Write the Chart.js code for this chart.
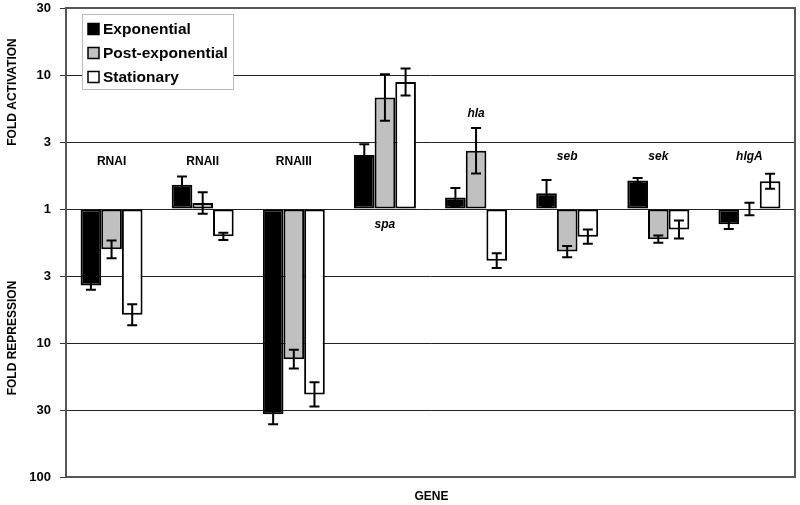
<!DOCTYPE html>
<html>
<head>
<meta charset="utf-8">
<script src="https://cdn.jsdelivr.net/npm/chart.js@4/dist/chart.umd.min.js"></script>
<style>
  html, body { margin: 0; padding: 0; background: #fff; }
  #wrap { width: 800px; height: 505px; position: relative; }
</style>
</head>
<body>
<div id="wrap"><canvas id="c"></canvas></div>
<script>
// Genes (categories)
const genes = ['RNAI', 'RNAII', 'RNAIII', 'spa', 'hla', 'seb', 'sek', 'hlgA'];
const italicGene = [false, false, false, true, true, true, true, true];
// Fold change: positive = activation, negative = repression
const exponential     = [-3.73, 1.52, -34.0, 2.53, 1.22, 1.31, 1.63, -1.30];
const postExponential = [-2.00, 1.11, -13.2, 6.80, 2.72, -2.08, -1.68, 1.00];
const stationary      = [-6.15, -1.60, -24.2, 8.87, -2.43, -1.61, -1.42, 1.61];
// Error half-widths in log10 units
const exponentialErr     = [0.030, 0.060, 0.075, 0.080, 0.070, 0.100, 0.020, 0.035];
const postExponentialErr = [0.066, 0.080, 0.070, 0.174, 0.170, 0.042, 0.027, 0.046];
const stationaryErr      = [0.078, 0.027, 0.090, 0.100, 0.055, 0.053, 0.067, 0.056];
// Y tick labels (bottom to top), ticks every half decade
const yTickLabels = ['100', '30', '10', '3', '1', '3', '10', '30'];
// Gene label anchor (in log10 axis units)
const geneLabelAt = [0.36, 0.36, 0.36, -0.11, 0.72, 0.40, 0.40, 0.40];

const toLog = v => Math.sign(v) * Math.log10(Math.abs(v));

const FONT = '"Liberation Sans", Arial, sans-serif';

const errorBars = {
  id: 'errorBars',
  afterDatasetsDraw(chart) {
    const ctx = chart.ctx;
    const y = chart.scales.y;
    chart.data.datasets.forEach((ds, di) => {
      const meta = chart.getDatasetMeta(di);
      meta.data.forEach((bar, i) => {
        const v = ds.data[i];
        const e = ds.err[i];
        const yTop = y.getPixelForValue(v + e);
        const yBot = y.getPixelForValue(v - e);
        ctx.save();
        ctx.strokeStyle = '#000';
        ctx.lineWidth = 2;
        ctx.beginPath();
        ctx.moveTo(bar.x, yTop); ctx.lineTo(bar.x, yBot);
        ctx.moveTo(bar.x - 5, yTop); ctx.lineTo(bar.x + 5, yTop);
        ctx.moveTo(bar.x - 5, yBot); ctx.lineTo(bar.x + 5, yBot);
        ctx.stroke();
        ctx.restore();
      });
    });
  }
};

const decor = {
  id: 'decor',
  afterDraw(chart) {
    const ctx = chart.ctx;
    const a = chart.chartArea;
    const x = chart.scales.x, y = chart.scales.y;
    ctx.save();
    // plot border
    ctx.strokeStyle = '#555';
    ctx.lineWidth = 2;
    ctx.strokeRect(a.left, a.top, a.right - a.left, a.bottom - a.top);
    // gene labels
    ctx.fillStyle = '#000';
    ctx.textAlign = 'center';
    ctx.textBaseline = 'middle';
    genes.forEach((g, i) => {
      ctx.font = (italicGene[i] ? 'italic ' : '') + 'bold 12px ' + FONT;
      ctx.fillText(g, x.getPixelForValue(i), y.getPixelForValue(geneLabelAt[i]) + 1);
    });
    // axis titles
    ctx.font = 'bold 12px ' + FONT;
    ctx.fillText('GENE', (a.left + a.right) / 2 + 1, 497);
    ctx.save();
    ctx.translate(13, 92);
    ctx.rotate(-Math.PI / 2);
    ctx.fillText('FOLD ACTIVATION', 0, 0);
    ctx.restore();
    ctx.save();
    ctx.translate(13, 338);
    ctx.rotate(-Math.PI / 2);
    ctx.fillText('FOLD REPRESSION', 0, 0);
    ctx.restore();
    // legend
    const lx = 82, ly = 14, lw = 151, lh = 75;
    ctx.fillStyle = '#fff';
    ctx.fillRect(lx, ly, lw, lh);
    ctx.strokeStyle = '#bbb';
    ctx.lineWidth = 1;
    ctx.strokeRect(lx + 0.5, ly + 0.5, lw, lh);
    ctx.font = 'bold 15.5px ' + FONT;
    ctx.textAlign = 'left';
    chart.data.datasets.forEach((ds, i) => {
      const cy = 29 + i * 24;
      ctx.fillStyle = ds.backgroundColor;
      ctx.fillRect(88, cy - 5.5, 11, 11);
      ctx.strokeStyle = '#000';
      ctx.lineWidth = 1.5;
      ctx.strokeRect(88, cy - 5.5, 11, 11);
      ctx.fillStyle = '#000';
      ctx.fillText(ds.label, 103, cy + 1);
    });
    ctx.restore();
  }
};

new Chart(document.getElementById('c'), {
  type: 'bar',
  data: {
    labels: genes,
    datasets: [
      { label: 'Exponential', data: exponential.map(toLog), err: exponentialErr, backgroundColor: '#000000' },
      { label: 'Post-exponential', data: postExponential.map(toLog), err: postExponentialErr, backgroundColor: '#c0c0c0' },
      { label: 'Stationary', data: stationary.map(toLog), err: stationaryErr, backgroundColor: '#ffffff' }
    ].map(d => Object.assign(d, { borderColor: '#000', borderWidth: 2, borderSkipped: false,
      categoryPercentage: 0.68, barPercentage: 1.0 }))
  },
  options: {
    responsive: true,
    maintainAspectRatio: false,
    animation: false,
    layout: { padding: { top: 8, right: 5, left: 0, bottom: 0 } },
    plugins: { legend: { display: false }, tooltip: { enabled: false } },
    scales: {
      x: {
        grid: { display: false },
        border: { display: false },
        ticks: { display: false },
        afterFit(s) { s.height = 28; }
      },
      y: {
        min: -2, max: 1.5,
        afterBuildTicks(s) {
          s.ticks = yTickLabels.map((_, i) => ({ value: -2 + i * 0.5 }));
        },
        ticks: {
          callback: (v) => yTickLabels[Math.round((v + 2) / 0.5)],
          color: '#000',
          font: { family: FONT, size: 13, weight: 'bold' },
          padding: 9
        },
        grid: { color: '#222', lineWidth: 1, tickLength: 6, tickColor: '#333' },
        border: { display: false },
        afterFit(s) { s.width = 66; s.paddingTop = 0; s.paddingBottom = 0; }
      }
    }
  },
  plugins: [errorBars, decor]
});
</script>
</body>
</html>
